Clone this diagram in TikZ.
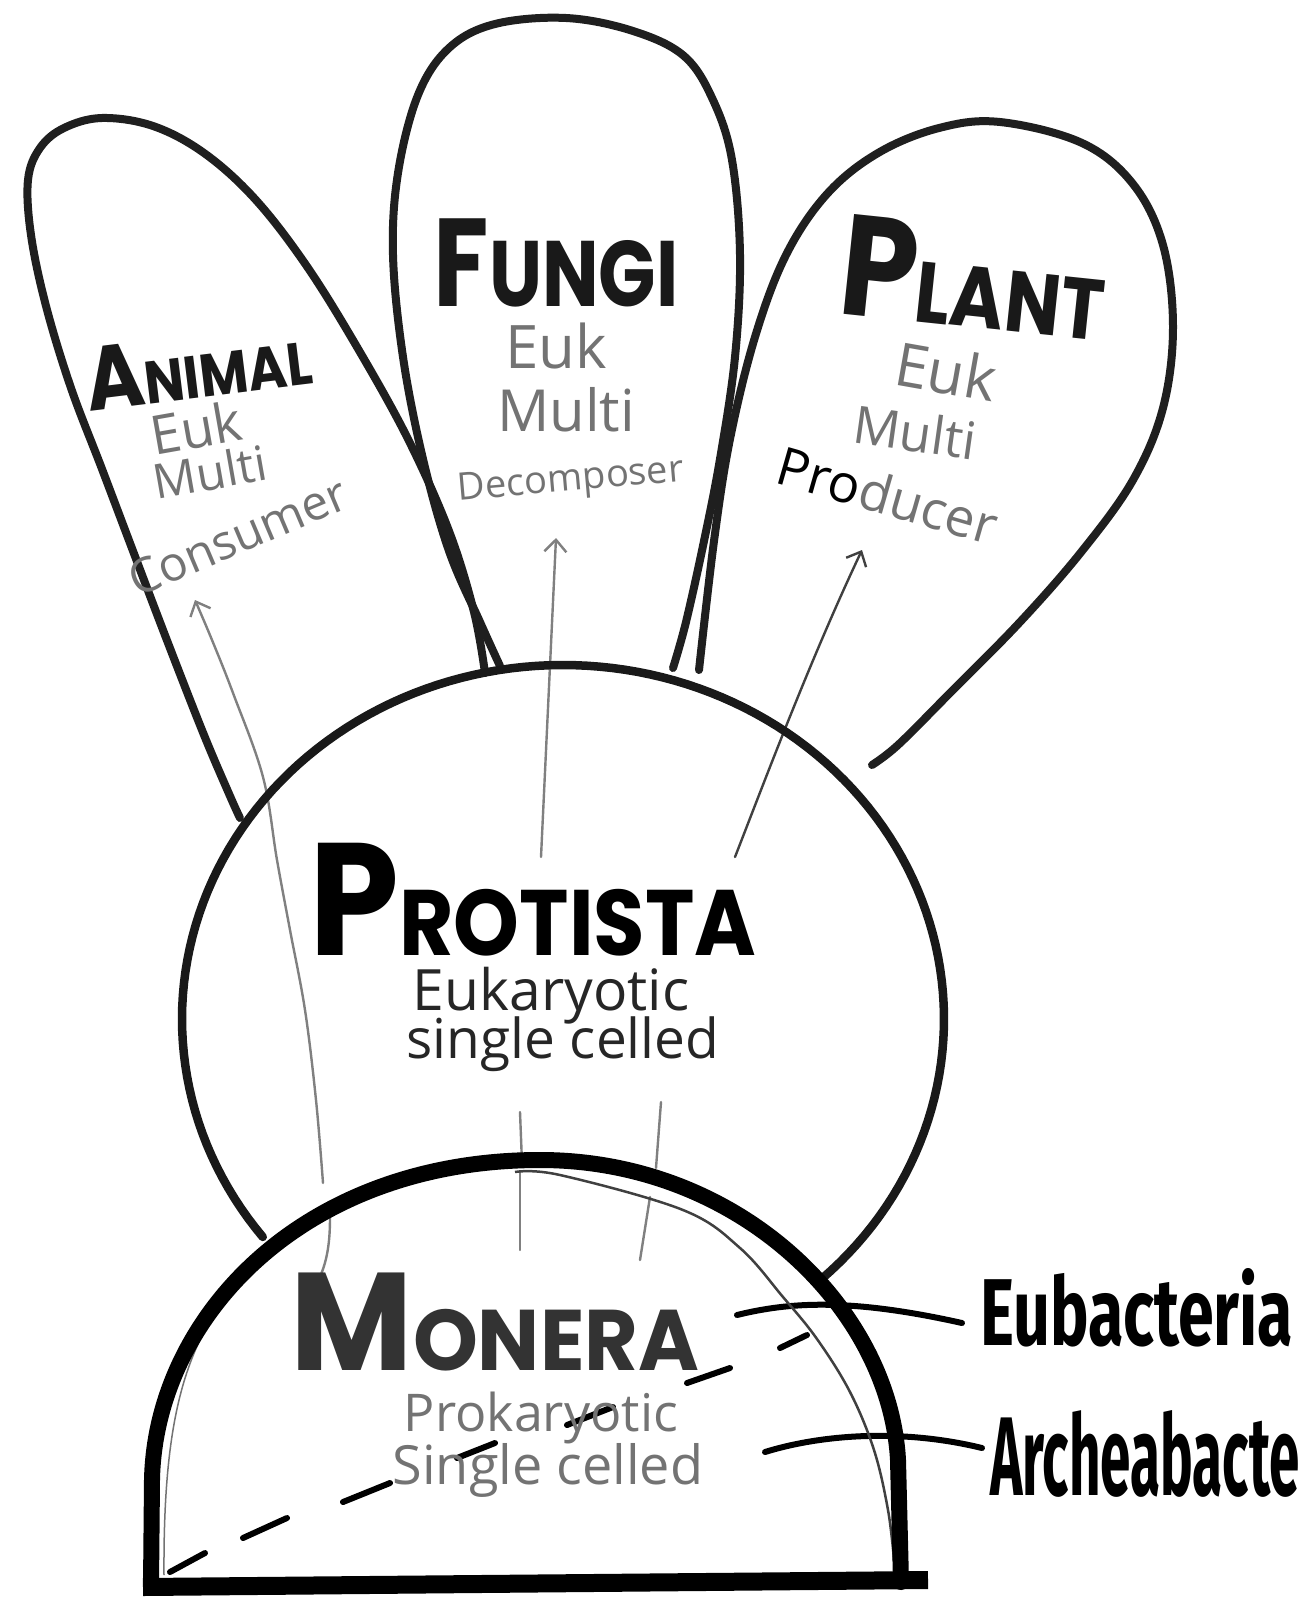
\documentclass[tikz,border=0pt]{standalone}
\usepackage{fontspec}
\setmainfont{Open Sans}
\newfontfamily\titlefont{Poppins}
\newfontfamily\handfont{Fira Sans}
\newfontfamily\subfont{Open Sans}
\usetikzlibrary{arrows.meta}
\newcommand{\myfs}[1]{\fontsize{#1}{#1}\selectfont}
\tikzset{
  leaf/.style={line width=8pt, black!88, line cap=round, line join=round},
  cellwall/.style={line width=8.5pt, black!90, line cap=round},
  dome/.style={line width=16pt, black, line cap=round},
  baseln/.style={line width=18pt, black},
  evo/.style={line width=2.4pt, black!50, line cap=round},
  evohead/.style={evo, -{Straight Barb[length=12pt,width=22pt]}},
  ptr/.style={line width=6pt, black, line cap=round},
  dashseg/.style={line width=6pt, black, line cap=round},
  innerln/.style={line width=2.5pt, black!75},
  title/.style={font=\titlefont\bfseries, inner sep=0pt, text=black!90},
  sub/.style={font=\subfont, inner sep=0pt, text=black!55},
  label/.style={font=\handfont\bfseries, inner sep=0pt, text=black},
}
\begin{document}
\begin{tikzpicture}[x=1pt,y=-1pt]
\useasboundingbox (0,0) rectangle (1299,1600);
\fill[white] (0,0) rectangle (1299,1600);

% ---------- evolution arrows (thin grey) ----------
\coordinate (a0) at (317,1283); \coordinate (a1) at (330,1217);
\coordinate (a2) at (323,1183); \coordinate (atip) at (195,600);
\draw[evo] (a0) .. controls (328,1262) and (330,1240) .. (a1);
\draw[evohead] plot[smooth, tension=0.6] coordinates {(323,1183) (316,1100) (305,1010) (290,930) (277,860) (263,777) (233,693) (212,640) (195,600)};

\coordinate (f0) at (520,1250); \coordinate (f1) at (520,1172);
\coordinate (f2) at (522,1163); \coordinate (f3) at (520,1112);
\coordinate (f4) at (541,857);  \coordinate (ftip) at (556,538);
\draw[evo] (f0) -- (f1);
\draw[evo] (f2) -- (f3);
\draw[evohead] (f4) -- (ftip);

\coordinate (p0) at (640,1260); \coordinate (p1) at (650,1197);
\coordinate (p2) at (656,1168); \coordinate (p3) at (661,1102);
\coordinate (p4) at (735,857);  \coordinate (ptip) at (862,550);
\draw[evo] (p0) -- (p1);
\draw[evo] (p2) -- (p3);
\draw[evohead, black!75] (p4) .. controls (765,780) and (810,660) .. (ptip);

% ---------- pointer lines to the labels ----------
\coordinate (eu0) at (737,1315); \coordinate (eu1) at (962,1323);
\coordinate (ar0) at (765,1452); \coordinate (ar1) at (982,1448);
\draw[ptr] (eu0) .. controls (790,1302) and (850,1298) .. (eu1);
\draw[ptr] (ar0) .. controls (820,1435) and (900,1428) .. (ar1);

% ---------- dashed line inside Monera ----------
\draw[dashseg] (170,1572) -- (205,1553);
\draw[dashseg] (243,1538) -- (287,1518);
\draw[dashseg] (343,1502) -- (390,1483);
\draw[dashseg] (457,1458) -- (495,1443);
\draw[dashseg] (567,1425) -- (613,1407);
\draw[dashseg] (687,1383) -- (730,1368);
\draw[dashseg] (780,1348) -- (807,1335);

% ---------- kingdom leaves ----------
\draw[leaf] plot[smooth, tension=0.6] coordinates {(240,818) (230,796) (204,735) (168,643) (133,551) (102,469) (71,388) (46,306) (31,235) (28,180) (40,148) (64,128) (102,118) (153,126) (204,153) (255,199) (306,265) (357,347) (408,439) (449,531) (474,612) (485,673)};
\draw[leaf] plot[smooth, tension=0.6] coordinates {(500,666) (480,622) (449,551) (423,459) (403,357) (393,255) (398,173) (418,95) (449,48) (495,24) (566,18) (633,31) (684,56) (713,100) (732,160) (740,255) (735,357) (720,459) (704,541) (686,622) (673,668)};
\draw[leaf] plot[smooth, tension=0.6] coordinates {(699,670) (714,541) (730,439) (755,337) (786,255) (827,194) (878,153) (939,128) (1000,122) (1082,143) (1133,184) (1163,245) (1173,327) (1163,408) (1133,480) (1082,551) (1020,622) (949,694) (898,745) (872,765)};

% ---------- Protista cell ----------
\draw[cellwall] plot[domain=142:407.2, samples=140, variable=\t] ({563+381*cos(\t)},{1019+354*sin(\t)});

% ---------- Monera dome ----------
\draw[innerln] plot[smooth, tension=0.6] coordinates {(515,1172) (560,1175) (683,1210) (740,1248) (783,1297) (817,1339) (850,1392) (874,1450) (888,1510) (894,1560)};
\draw[line width=1.5pt, black!55] (258,1258) .. controls (190,1330) and (163,1400) .. (164,1575);
\draw[dome] (151,1586) -- (152,1480) .. controls (155,1320) and (300,1160) .. (540,1160) .. controls (740,1160) and (890,1310) .. (898,1460) -- (901,1582);
\draw[baseln] (143,1587) -- (928,1580);

% ---------- texts ----------
\node[title, rotate=7, xscale=0.88] (animal) at (198,366) {{\myfs{90}A}{\myfs{60}NIMAL}};
\node[sub, rotate=10] (aeuk) at (196,428) {\myfs{54}Euk};
\node[sub, rotate=10] (amul) at (210,472) {\myfs{48}Multi};
\node[sub, rotate=23] (acon) at (238,536) {\myfs{48}Consumer};

\node[title, xscale=0.81] (fungi) at (556,263) {{\myfs{125}F}{\myfs{93}UNGI}};
\node[sub] (feuk) at (556,346) {\myfs{60}Euk};
\node[sub] (fmul) at (566,410) {\myfs{58}Multi};
\node[sub, rotate=5] (fdec) at (571,482) {\myfs{38}Decomposer};

\node[title, rotate=-6, xscale=0.86] (plant) at (974,277) {{\myfs{143}P}{\myfs{86}LANT}};
\node[sub, rotate=-10] (peuk) at (946,371) {\myfs{60}Euk};
\node[sub, rotate=-8] (pmul) at (915,432) {\myfs{52}Multi};
\node[sub, rotate=-16] (ppro) at (888,495) {\myfs{53}{\color{black}Pro}ducer};

\node[title, xscale=0.9, text=black] (protista) at (533,900) {{\myfs{160}P}{\myfs{93}ROTISTA}};
\node[sub, text=black!85] (peuka) at (551,996) {\myfs{57}Eukaryotic};
\node[sub, text=black!85] (psing) at (563,1044) {\myfs{55}single celled};

\node[title, xscale=0.96, text=black!80] (monera) at (495,1322) {{\myfs{139}M}{\myfs{86}ONERA}};
\node[sub] (mprok) at (541,1418) {\myfs{52}Prokaryotic};
\node[sub] (msing) at (548,1470) {\myfs{54}Single celled};

\node[label, anchor=base west, xscale=0.68] (eubac) at (980,1345) {\myfs{95}Eubacteria};
\node[label, anchor=base west, xscale=0.49] (archae) at (990,1495) {\myfs{112}Archeabacteria};
\end{tikzpicture}
\end{document}
